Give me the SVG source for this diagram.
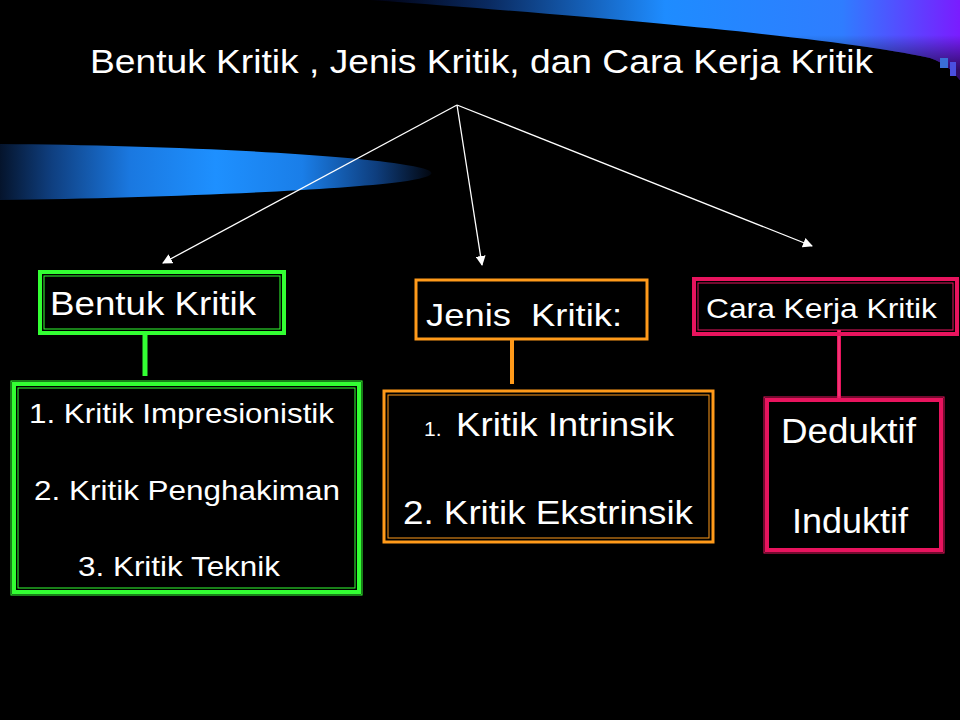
<svg xmlns="http://www.w3.org/2000/svg" width="960" height="720" viewBox="0 0 960 720">
<defs>
<linearGradient id="topg" x1="370" y1="0" x2="960" y2="0" gradientUnits="userSpaceOnUse">
<stop offset="0" stop-color="#000010"/>
<stop offset="0.2" stop-color="#0a2a60"/>
<stop offset="0.5" stop-color="#1e8cff"/>
<stop offset="0.8" stop-color="#2f7dff"/>
<stop offset="1" stop-color="#7a1cff"/>
</linearGradient>
<linearGradient id="topfade" x1="0" y1="0" x2="0" y2="70" gradientUnits="userSpaceOnUse">
<stop offset="0" stop-color="#000" stop-opacity="0"/>
<stop offset="0.5" stop-color="#000" stop-opacity="0"/>
<stop offset="1" stop-color="#000" stop-opacity="0.6"/>
</linearGradient>
<linearGradient id="leftg" x1="0" y1="0" x2="432" y2="0" gradientUnits="userSpaceOnUse">
<stop offset="0" stop-color="#05142c"/>
<stop offset="0.12" stop-color="#0f3f80"/>
<stop offset="0.3" stop-color="#1a78e0"/>
<stop offset="0.5" stop-color="#1e90ff"/>
<stop offset="0.7" stop-color="#1a7ee8"/>
<stop offset="0.87" stop-color="#0e3e7e"/>
<stop offset="1" stop-color="#02060e"/>
</linearGradient>
<marker id="arr" viewBox="0 0 10 10" refX="9" refY="5" markerWidth="10" markerHeight="10" markerUnits="userSpaceOnUse" orient="auto">
<path d="M0,0 L10,5 L0,10 Z" fill="#fff"/>
</marker>
<style>
text{font-family:"Liberation Sans",Arial,sans-serif;fill:#fff}
.conn{stroke:#fff;stroke-width:1.3;fill:none;marker-end:url(#arr)}
.g{fill:none;stroke:#33ff33}
.o{fill:none;stroke:#ff9a1a}
.p{fill:none;stroke:#e8145e}
</style>
</defs>
<rect x="0" y="0" width="960" height="720" fill="#000"/>
<path d="M370,0 L960,0 L960,80 C952,70 945,63 930,58 C870,44 700,24 370,0 Z" fill="url(#topg)"/>
<path d="M370,0 L960,0 L960,80 C952,70 945,63 930,58 C870,44 700,24 370,0 Z" fill="url(#topfade)"/>
<rect x="940" y="58" width="8" height="10" fill="#3a6fd8"/>
<rect x="950" y="62" width="6" height="14" fill="#4a4fe0"/>
<path d="M0,144 C150,145 330,153 400,164 C442,170 442,176 400,182 C330,191 150,198 0,200 Z" fill="url(#leftg)"/>

<text x="90" y="73" font-size="34" textLength="783" lengthAdjust="spacingAndGlyphs">Bentuk Kritik , Jenis Kritik, dan Cara Kerja Kritik</text>

<g id="connectors">
<line class="conn" x1="457" y1="105" x2="163" y2="263"/>
<line class="conn" x1="457" y1="105" x2="482" y2="265"/>
<line class="conn" x1="457" y1="105" x2="812" y2="246"/>
<line x1="145" y1="334" x2="145" y2="376" stroke="#33ff33" stroke-width="5"/>
<line x1="512" y1="339" x2="512" y2="384" stroke="#ff9a1a" stroke-width="4"/>
<line x1="839" y1="330" x2="839" y2="399" stroke="#e8145e" stroke-width="4"/>
<line x1="839" y1="330" x2="839" y2="399" stroke="#ff6a9a" stroke-width="0.8"/>
</g>

<g id="bentuk">
<rect class="g" x="40" y="272" width="244" height="61" stroke-width="4"/>
<rect class="g" x="44" y="276" width="236" height="53" stroke-width="1"/>
<text x="50" y="315" font-size="34" textLength="206" lengthAdjust="spacingAndGlyphs">Bentuk Kritik</text>
</g>

<g id="bentuk-list">
<rect class="g" x="14" y="384" width="345" height="208" stroke-width="4"/>
<rect class="g" x="11" y="381" width="351" height="214" stroke-width="1"/>
<rect class="g" x="18" y="388" width="337" height="200" stroke-width="1"/>
<text x="29" y="423" font-size="28" textLength="305" lengthAdjust="spacingAndGlyphs">1. Kritik Impresionistik</text>
<text x="34" y="500" font-size="28" textLength="306" lengthAdjust="spacingAndGlyphs">2. Kritik Penghakiman</text>
<text x="78" y="576" font-size="28" textLength="202" lengthAdjust="spacingAndGlyphs">3. Kritik Teknik</text>
</g>

<g id="jenis">
<rect class="o" x="416" y="280" width="231" height="59" stroke-width="3"/>
<text x="426" y="326" font-size="32" textLength="196" lengthAdjust="spacingAndGlyphs" xml:space="preserve">Jenis  Kritik:</text>
</g>

<g id="jenis-list">
<rect class="o" x="384" y="391" width="329" height="151" stroke-width="3"/>
<rect class="o" x="388" y="395" width="321" height="143" stroke-width="1"/>
<text x="424" y="436" font-size="21">1.</text>
<text x="456" y="436" font-size="33" textLength="218" lengthAdjust="spacingAndGlyphs">Kritik Intrinsik</text>
<text x="403" y="524" font-size="34" textLength="290" lengthAdjust="spacingAndGlyphs">2. Kritik Ekstrinsik</text>
</g>

<g id="cara">
<rect class="p" x="694" y="279" width="263" height="55" stroke-width="4"/>
<rect class="p" x="698" y="283" width="255" height="47" stroke-width="1"/>
<text x="706" y="318" font-size="28" textLength="231" lengthAdjust="spacingAndGlyphs">Cara Kerja Kritik</text>
</g>

<g id="cara-list">
<rect class="p" x="767" y="400" width="174" height="150" stroke-width="4"/>
<rect class="p" x="764" y="397" width="180" height="156" stroke-width="1"/>
<text x="781" y="443" font-size="35" textLength="135" lengthAdjust="spacingAndGlyphs">Deduktif</text>
<text x="792" y="533" font-size="35" textLength="116" lengthAdjust="spacingAndGlyphs">Induktif</text>
</g>
</svg>
